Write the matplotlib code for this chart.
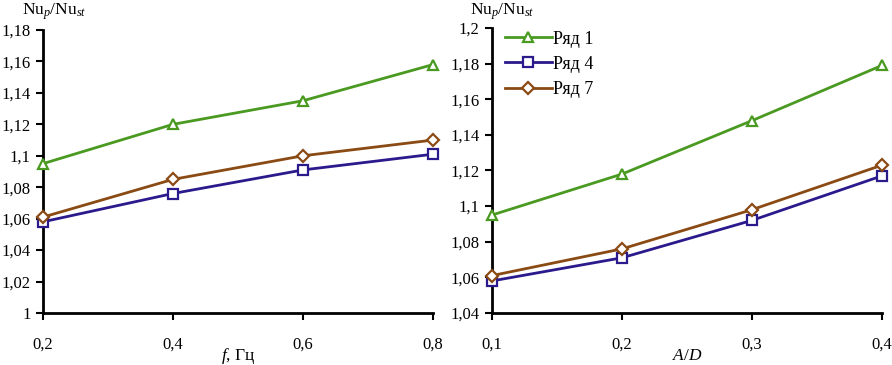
import matplotlib
matplotlib.use("Agg")
import matplotlib.pyplot as plt
from matplotlib.ticker import FuncFormatter

plt.rcParams["font.family"] = ["Liberation Serif", "DejaVu Serif"]
plt.rcParams["mathtext.fontset"] = "custom"
plt.rcParams["mathtext.rm"] = "Liberation Serif"
plt.rcParams["mathtext.it"] = "Liberation Serif:italic"

# left panel: frequency
freq = [0.2, 0.4, 0.6, 0.8]
freq_row1 = [1.095, 1.120, 1.135, 1.158]
freq_row4 = [1.058, 1.076, 1.091, 1.101]
freq_row7 = [1.061, 1.085, 1.100, 1.110]

# right panel: relative amplitude
amp = [0.1, 0.2, 0.3, 0.4]
amp_row1 = [1.095, 1.118, 1.148, 1.179]
amp_row4 = [1.058, 1.071, 1.092, 1.117]
amp_row7 = [1.061, 1.076, 1.098, 1.123]

labels = ["Ряд 1", "Ряд 4", "Ряд 7"]
colors = ["#4a9a22", "#2a1a8c", "#8a4a14"]
markers = ["^", "s", "D"]
msizes = [7.5, 6.5, 6]

comma = FuncFormatter(lambda v, p: ("%g" % round(v, 3)).replace(".", ","))

fig = plt.figure(figsize=(8.92, 3.65), dpi=100)
W, H = 892, 365
ax1 = fig.add_axes([43 / W, (H - 313) / H, 390 / W, 283 / H])
ax2 = fig.add_axes([492 / W, (H - 313) / H, 390 / W, 285 / H])


def draw(ax, x, series, ylim, yticks, xlabel, label_x):
    for ys, c, m, ms, lab in zip(series, colors, markers, msizes, labels):
        ax.plot(x, ys, color=c, lw=2, marker=m, ms=ms, mfc="white",
                mec=c, mew=1.6, label=lab, clip_on=False, zorder=3)
    ax.set_xlim(x[0], x[-1])
    ax.set_ylim(*ylim)
    ax.set_xticks(x)
    ax.set_yticks(yticks)
    ax.xaxis.set_major_formatter(comma)
    ax.yaxis.set_major_formatter(comma)
    for s in ["top", "right"]:
        ax.spines[s].set_visible(False)
    for s in ["left", "bottom"]:
        ax.spines[s].set_linewidth(2)
    ax.tick_params(axis="both", direction="out", length=5, width=1.5,
                   labelsize=12)
    ax.tick_params(axis="x", pad=12)
    ax.tick_params(axis="y", pad=4)
    bbox = ax.get_position()
    fig.text((bbox.x0 + bbox.x1) / 2, 1 - 356 / H, xlabel, fontsize=12.5,
             ha="center", va="center")
    fig.text(label_x / W, 1 - 1 / H, r"$\mathrm{Nu}_p/\mathrm{Nu}_{st}$",
             fontsize=12.5, va="top", ha="left")


draw(ax1, freq, [freq_row1, freq_row4, freq_row7], (1.0, 1.18),
     [1.0, 1.02, 1.04, 1.06, 1.08, 1.1, 1.12, 1.14, 1.16, 1.18],
     r"$f$, Гц", 22)
draw(ax2, amp, [amp_row1, amp_row4, amp_row7], (1.04, 1.2),
     [1.04, 1.06, 1.08, 1.1, 1.12, 1.14, 1.16, 1.18, 1.2], r"$A/D$", 470)

ax2.legend(loc="upper left", bbox_to_anchor=(0.0, 1.035), frameon=False,
           fontsize=13, handlelength=2.6, handletextpad=0.1, labelspacing=0.45,
           borderpad=0.2)

fig.savefig("out.png", dpi=100)
